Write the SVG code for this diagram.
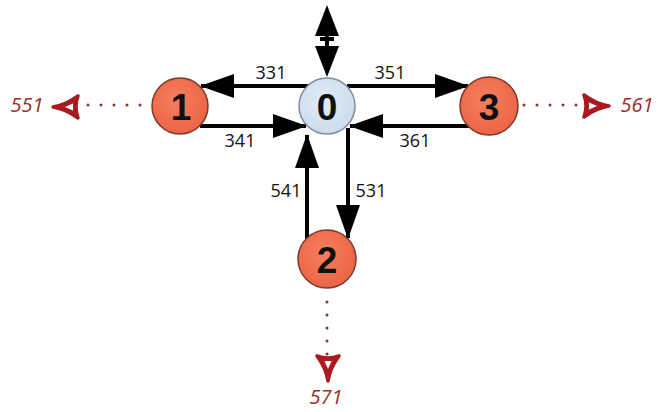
<svg xmlns="http://www.w3.org/2000/svg" width="659" height="412" viewBox="0 0 659 412">
<style>
.node{fill:url(#og);stroke:#7A3A2C;stroke-width:1.5}
.center{fill:url(#bg);stroke:#7F8C98;stroke-width:1.5}
.num{font-family:"Liberation Sans",Arial,sans-serif;font-weight:bold;font-size:37px;fill:#111;text-anchor:middle}
.lbl{font-family:"Open Sans","Liberation Sans",sans-serif;font-size:18px;fill:#111;text-anchor:middle}
.rlbl{font-family:"Open Sans","Liberation Sans",sans-serif;font-size:20px;font-style:italic;fill:#9E2A2B;text-anchor:middle}
.edge{stroke:#000;stroke-width:4;fill:none;marker-end:url(#ah)}
.dot{fill:#8A3434}
</style>
<defs>
<radialGradient id="og" cx="0.45" cy="0.4" r="0.6">
<stop offset="0" stop-color="#F5805F"/>
<stop offset="1" stop-color="#EC6445"/>
</radialGradient>
<radialGradient id="bg" cx="0.45" cy="0.4" r="0.6">
<stop offset="0" stop-color="#E2ECF6"/>
<stop offset="1" stop-color="#CCDCEC"/>
</radialGradient>
<marker id="ah" markerUnits="userSpaceOnUse" markerWidth="34" markerHeight="24" refX="33" refY="12" orient="auto">
<path d="M0,0 L34,12 L0,24 Z" fill="#000"/>
</marker>
<g id="dart">
<path d="M13,0 Q0,-2 -12,-11 Q-8,0 -12,11 Q0,2 13,0 Z" fill="#B01E23" stroke="#A81A20" stroke-width="3.5" stroke-linejoin="round"/>
<path d="M1,0 L-7,-3.5 L-7,3.5 Z" fill="#fff"/>
</g>
<g id="dots5">
<circle class="dot" cx="0" cy="0" r="1.5"/>
<circle class="dot" cx="13" cy="0" r="1.5"/>
<circle class="dot" cx="26" cy="0" r="1.5"/>
<circle class="dot" cx="39" cy="0" r="1.5"/>
<circle class="dot" cx="52" cy="0" r="1.5"/>
</g>
</defs>
<rect width="659" height="412" fill="#fff"/>
<g id="connectors">
<line class="edge" x1="308" y1="86" x2="201" y2="86"/>
<line class="edge" x1="347" y1="86" x2="468" y2="86"/>
<line class="edge" x1="200" y1="126" x2="306" y2="126"/>
<line class="edge" x1="469" y1="126" x2="350" y2="126"/>
<line class="edge" x1="307" y1="240" x2="307" y2="135"/>
<line class="edge" x1="348" y1="128" x2="348" y2="238"/>
<line x1="327" y1="30" x2="327" y2="50" stroke="#000" stroke-width="4"/>
<path d="M327,5 L315,36 L339,36 Z" fill="#000"/>
<rect x="320" y="37" width="14" height="4" fill="#000"/>
<path d="M315,46 L339,46 L327,77 Z" fill="#000"/>
<use href="#dots5" x="88" y="105"/>
<use href="#dots5" x="524" y="105"/>
<use href="#dots5" transform="translate(327,302) rotate(90)"/>
<use href="#dart" transform="translate(66,107) rotate(180)"/>
<use href="#dart" transform="translate(596,106)"/>
<use href="#dart" transform="translate(328,368) rotate(90)"/>
</g>
<g id="edge-labels">
<text class="lbl" x="271" y="79">331</text>
<text class="lbl" x="390" y="79">351</text>
<text class="lbl" x="240" y="147">341</text>
<text class="lbl" x="415" y="147">361</text>
<text class="lbl" x="286" y="197">541</text>
<text class="lbl" x="371" y="197">531</text>
<text class="rlbl" x="27" y="112">551</text>
<text class="rlbl" x="637" y="112">561</text>
<text class="rlbl" x="326" y="404">571</text>
</g>
<g id="node0"><circle class="center" cx="327" cy="106" r="28"/><text class="num" x="327" y="119.5">0</text></g>
<g id="node1"><circle class="node" cx="180" cy="106" r="28"/><text class="num" x="181" y="119.5">1</text></g>
<g id="node3"><circle class="node" cx="489" cy="106" r="29"/><text class="num" x="489" y="119.5">3</text></g>
<g id="node2"><circle class="node" cx="327" cy="259" r="29"/><text class="num" x="327" y="272.5">2</text></g>
</svg>
